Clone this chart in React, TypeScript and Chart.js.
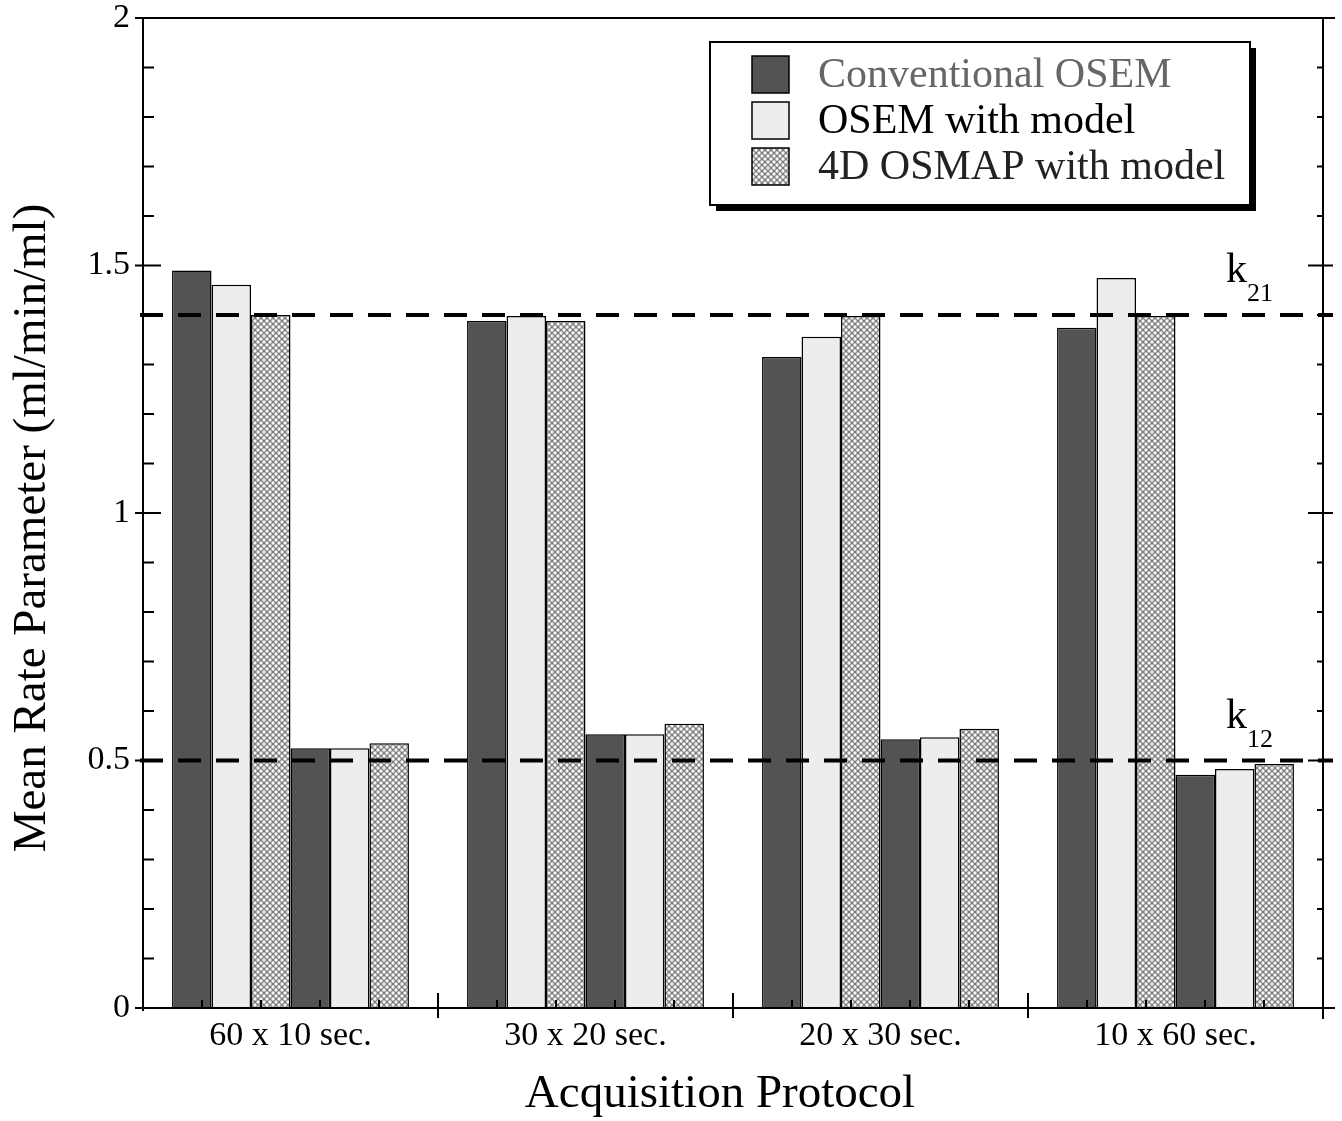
import React, { useEffect, useRef } from 'react';
import { Chart, registerables } from 'chart.js';

Chart.register(...registerables);

const categories = ['60 x 10 sec.', '30 x 20 sec.', '20 x 30 sec.', '10 x 60 sec.'];
const k21Conventional = [1.49, 1.388, 1.315, 1.374];
const k21OsemModel = [1.461, 1.398, 1.356, 1.475];
const k21Osmap = [1.4, 1.388, 1.398, 1.398];
const k12Conventional = [0.525, 0.553, 0.543, 0.471];
const k12OsemModel = [0.525, 0.553, 0.547, 0.483];
const k12Osmap = [0.535, 0.574, 0.564, 0.493];
const trueK21 = 1.4;
const trueK12 = 0.5;
const yTickValues = [0, 0.5, 1, 1.5, 2];
const seriesNames = ['Conventional OSEM', 'OSEM with model', '4D OSMAP with model'];
const xTitle = 'Acquisition Protocol';
const yTitle = 'Mean Rate Parameter (ml/min/ml)';

const FONT = '"Liberation Serif", "DejaVu Serif", "Times New Roman", serif';
const DARK = '#535353';
const LIGHT = '#ededed';

function makePattern(): CanvasPattern | string {
  const c = document.createElement('canvas');
  c.width = 6;
  c.height = 6;
  const g = c.getContext('2d');
  if (!g) return '#b0b0b0';
  g.fillStyle = '#7c7c7c';
  g.fillRect(0, 0, 6, 6);
  g.fillStyle = '#f6f6f6';
  const pts = [[3, 3], [0, 0], [6, 0], [0, 6], [6, 6]];
  for (const [px, py] of pts) {
    g.beginPath();
    g.arc(px, py, 1.7, 0, Math.PI * 2);
    g.fill();
  }
  return g.createPattern(c, 'repeat') || '#b0b0b0';
}

export default function App() {
  const canvasRef = useRef<HTMLCanvasElement | null>(null);

  useEffect(() => {
    document.body.style.margin = '0';
    const canvas = canvasRef.current;
    if (!canvas) return;
    const pattern = makePattern();

    const overlay = {
      id: 'overlay',
      afterDatasetsDraw(chart: any) {
        const { ctx, chartArea: ca, scales } = chart;
        const x = scales.x;
        const y = scales.y;
        ctx.save();
        // reference dashed lines
        ctx.strokeStyle = '#000';
        ctx.lineWidth = 4;
        ctx.setLineDash([23, 15]);
        for (const v of [trueK21, trueK12]) {
          const py = y.getPixelForValue(v);
          ctx.beginPath();
          ctx.moveTo(ca.left - 3, py);
          ctx.lineTo(ca.right + 10, py);
          ctx.stroke();
        }
        ctx.setLineDash([]);
        // frame
        ctx.lineWidth = 2;
        ctx.beginPath();
        ctx.moveTo(ca.left - 7, ca.top);
        ctx.lineTo(ca.right + 12, ca.top);
        ctx.moveTo(ca.left - 8, ca.bottom);
        ctx.lineTo(ca.right + 12, ca.bottom);
        ctx.moveTo(ca.left, ca.top);
        ctx.lineTo(ca.left, ca.bottom + 3);
        ctx.moveTo(ca.right, ca.top);
        ctx.lineTo(ca.right, ca.bottom);
        // y ticks
        for (let i = 0; i <= 20; i++) {
          const v = i / 10;
          const py = y.getPixelForValue(v);
          if (i % 5 === 0) {
            ctx.moveTo(ca.left - 8, py);
            ctx.lineTo(ca.left + 18, py);
            ctx.moveTo(ca.right - 15, py);
            ctx.lineTo(ca.right + 10, py);
          } else {
            ctx.moveTo(ca.left, py);
            ctx.lineTo(ca.left + 11, py);
            ctx.moveTo(ca.right - 6, py);
            ctx.lineTo(ca.right, py);
          }
        }
        // x ticks
        const n = categories.length;
        const cw = n > 1 ? x.getPixelForValue(1) - x.getPixelForValue(0) : ca.right - ca.left;
        for (let i = 0; i < n; i++) {
          const start = x.getPixelForValue(i) - cw / 2;
          for (let k = 1; k < 5; k++) {
            const px = start + (cw * k) / 5;
            ctx.moveTo(px, ca.bottom);
            ctx.lineTo(px, ca.bottom - 8);
          }
          if (i > 0) {
            ctx.moveTo(start, ca.bottom - 15);
            ctx.lineTo(start, ca.bottom + 10);
          }
        }
        ctx.moveTo(ca.right, ca.bottom - 15);
        ctx.lineTo(ca.right, ca.bottom + 11);
        ctx.stroke();
        ctx.restore();
      },
      afterDraw(chart: any) {
        const { ctx, chartArea: ca, scales } = chart;
        const y = scales.y;
        ctx.save();
        // axis titles
        ctx.fillStyle = '#000';
        ctx.font = `47px ${FONT}`;
        ctx.textAlign = 'center';
        ctx.textBaseline = 'middle';
        ctx.fillText(xTitle, 720, 1095);
        ctx.save();
        ctx.translate(33, 528);
        ctx.rotate(-Math.PI / 2);
        ctx.fillText(yTitle, 0, 0);
        ctx.restore();
        // k labels
        ctx.textAlign = 'left';
        ctx.textBaseline = 'alphabetic';
        const kx = ca.right - 97;
        const labels: [number, string][] = [[trueK21, '21'], [trueK12, '12']];
        for (const [v, sub] of labels) {
          const py = y.getPixelForValue(v);
          ctx.font = `42px ${FONT}`;
          ctx.fillText('k', kx, py - 33);
          ctx.font = `26px ${FONT}`;
          ctx.fillText(sub, kx + 21, py - 14);
        }
        // legend
        const bx = 710, by = 42, bw = 540, bh = 163;
        ctx.fillStyle = '#000';
        ctx.fillRect(bx + 6, by + 6, bw, bh);
        ctx.fillStyle = '#fff';
        ctx.fillRect(bx, by, bw, bh);
        ctx.strokeStyle = '#000';
        ctx.lineWidth = 2;
        ctx.strokeRect(bx, by, bw, bh);
        const fills: (string | CanvasPattern)[] = [DARK, LIGHT, pattern];
        const textColors = ['#666666', '#000000', '#222222'];
        for (let i = 0; i < 3; i++) {
          const sy = 56 + i * 46;
          ctx.fillStyle = fills[i] as any;
          ctx.fillRect(752, sy, 37, 37);
          ctx.lineWidth = 1.5;
          ctx.strokeRect(752, sy, 37, 37);
          ctx.fillStyle = textColors[i];
          ctx.font = `42px ${FONT}`;
          ctx.textBaseline = 'middle';
          ctx.fillText(seriesNames[i], 818, sy + 20);
        }
        ctx.restore();
      },
    };

    const mk = (label: string, data: number[], bg: any) => ({
      label,
      data,
      backgroundColor: bg,
      borderColor: '#000',
      borderWidth: 1.5,
      categoryPercentage: 0.803,
      barPercentage: 1.0,
    });

    const chart = new Chart(canvas, {
      type: 'bar',
      data: {
        labels: categories,
        datasets: [
          mk('Conventional OSEM (k21)', k21Conventional, DARK),
          mk('OSEM with model (k21)', k21OsemModel, LIGHT),
          mk('4D OSMAP with model (k21)', k21Osmap, pattern),
          mk('Conventional OSEM (k12)', k12Conventional, DARK),
          mk('OSEM with model (k12)', k12OsemModel, LIGHT),
          mk('4D OSMAP with model (k12)', k12Osmap, pattern),
        ] as any,
      },
      options: {
        responsive: false,
        animation: false,
        layout: { padding: { top: 18, right: 19, left: 0, bottom: 0 } },
        plugins: { legend: { display: false }, tooltip: { enabled: false } },
        scales: {
          x: {
            type: 'category',
            grid: { display: false, drawTicks: false },
            border: { display: false },
            ticks: { font: { family: FONT, size: 34 }, color: '#000', padding: 8 },
            title: { display: false },
            afterFit: (s: any) => {
              s.height = 113;
              s.paddingLeft = 0;
              s.paddingRight = 0;
            },
          },
          y: {
            min: 0,
            max: 2,
            afterBuildTicks: (s: any) => {
              s.ticks = yTickValues.map((v) => ({ value: v }));
            },
            grid: { display: false, drawTicks: false },
            border: { display: false },
            ticks: {
              font: { family: FONT, size: 34 },
              color: '#000',
              padding: 13,
              callback: (v: any) => String(v),
            },
            title: { display: false },
            afterFit: (s: any) => {
              s.width = 143;
              s.paddingTop = 0;
              s.paddingBottom = 0;
            },
          },
        },
      } as any,
      plugins: [overlay],
    });

    return () => {
      chart.destroy();
    };
  }, []);

  return (
    <div style={{ width: 1342, height: 1121, background: '#fff' }}>
      <canvas ref={canvasRef} width={1342} height={1121} style={{ display: 'block' }} />
    </div>
  );
}
